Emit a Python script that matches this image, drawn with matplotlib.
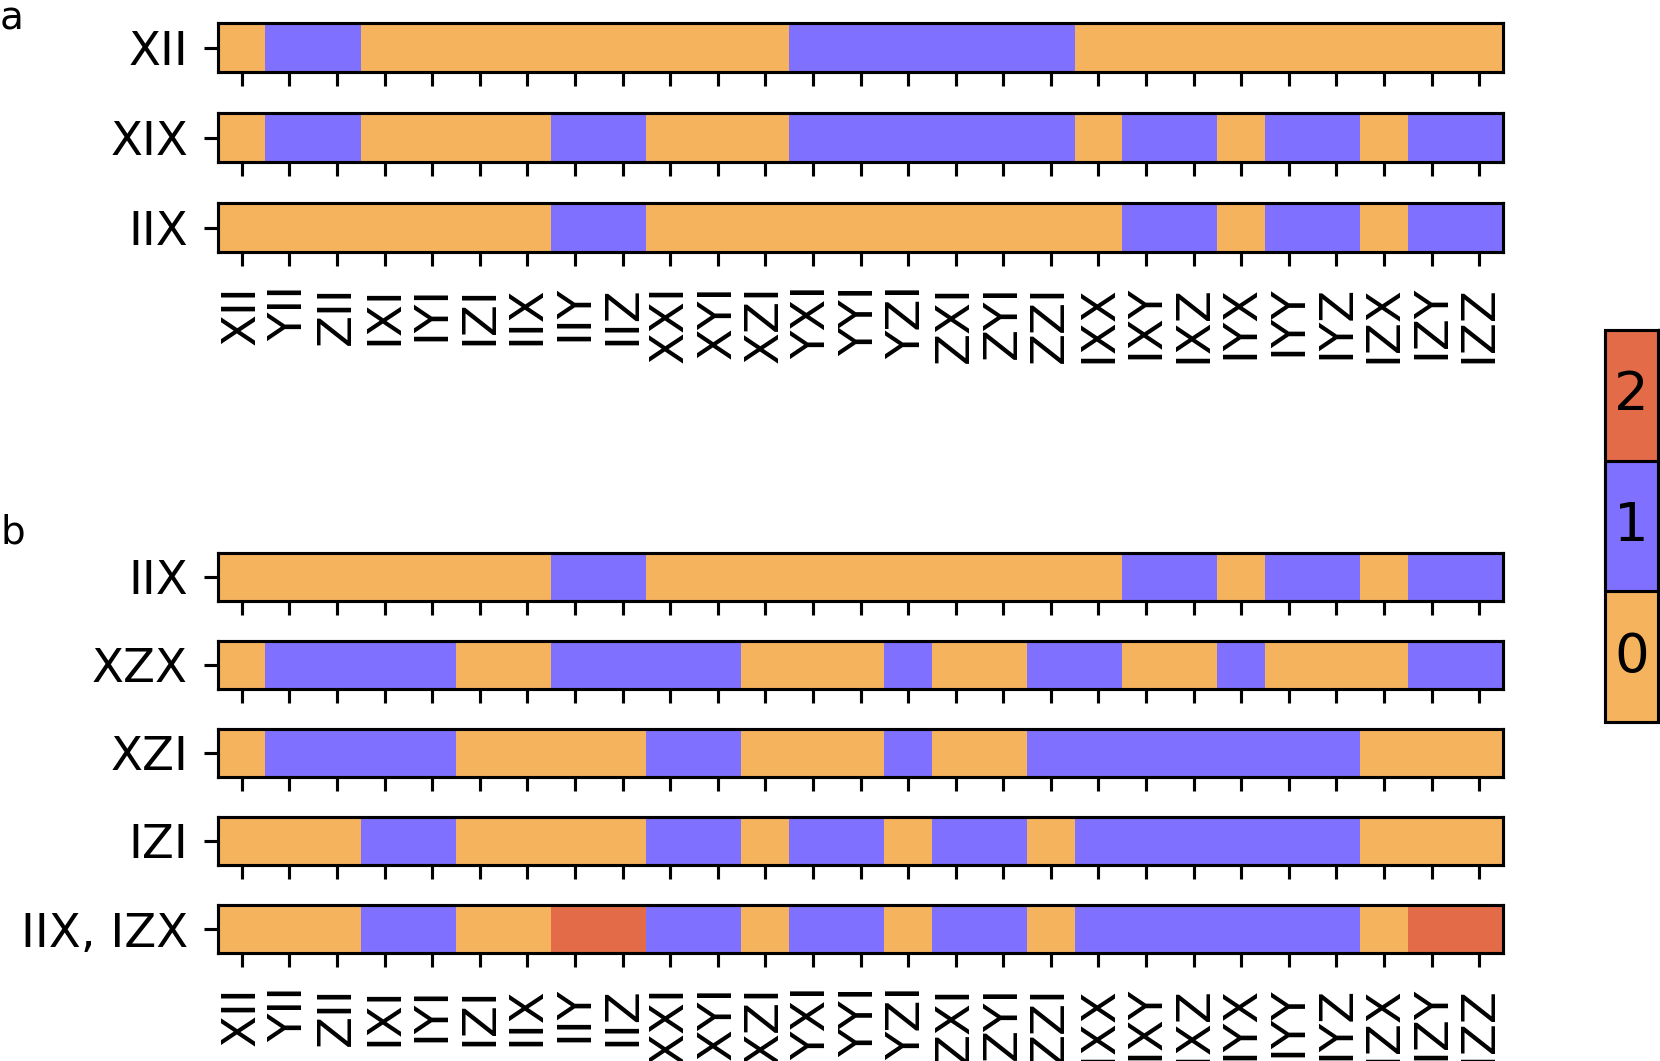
import numpy as np
import matplotlib
matplotlib.use("Agg")
import matplotlib.pyplot as plt
from matplotlib.colors import ListedColormap, BoundaryNorm

# measurement labels along x
paulis = ["XII", "YII", "ZII", "IXI", "IYI", "IZI", "IIX", "IIY", "IIZ",
          "XXI", "XYI", "XZI", "YXI", "YYI", "YZI", "ZXI", "ZYI", "ZZI",
          "IXX", "IXY", "IXZ", "IYX", "IYY", "IYZ", "IZX", "IZY", "IZZ"]

rows_a = ["XII", "XIX", "IIX"]
vals_a = [
    [0, 1, 1, 0, 0, 0, 0, 0, 0, 0, 0, 0, 1, 1, 1, 1, 1, 1, 0, 0, 0, 0, 0, 0, 0, 0, 0],
    [0, 1, 1, 0, 0, 0, 0, 1, 1, 0, 0, 0, 1, 1, 1, 1, 1, 1, 0, 1, 1, 0, 1, 1, 0, 1, 1],
    [0, 0, 0, 0, 0, 0, 0, 1, 1, 0, 0, 0, 0, 0, 0, 0, 0, 0, 0, 1, 1, 0, 1, 1, 0, 1, 1],
]

rows_b = ["IIX", "XZX", "XZI", "IZI", "IIX, IZX"]
vals_b = [
    [0, 0, 0, 0, 0, 0, 0, 1, 1, 0, 0, 0, 0, 0, 0, 0, 0, 0, 0, 1, 1, 0, 1, 1, 0, 1, 1],
    [0, 1, 1, 1, 1, 0, 0, 1, 1, 1, 1, 0, 0, 0, 1, 0, 0, 1, 1, 0, 0, 1, 0, 0, 0, 1, 1],
    [0, 1, 1, 1, 1, 0, 0, 0, 0, 1, 1, 0, 0, 0, 1, 0, 0, 1, 1, 1, 1, 1, 1, 1, 0, 0, 0],
    [0, 0, 0, 1, 1, 0, 0, 0, 0, 1, 1, 0, 1, 1, 0, 1, 1, 0, 1, 1, 1, 1, 1, 1, 0, 0, 0],
    [0, 0, 0, 1, 1, 0, 0, 2, 2, 1, 1, 0, 1, 1, 0, 1, 1, 0, 1, 1, 1, 1, 1, 1, 0, 2, 2],
]

levels = [0, 1, 2]
colors = ["#F6B35E", "#8070FF", "#E36B47"]

cmap = ListedColormap(colors)
norm = BoundaryNorm([-0.5, 0.5, 1.5, 2.5], cmap.N)

W, H = 1660, 1061
DPI = 280
fig = plt.figure(figsize=(W / DPI, H / DPI), dpi=DPI)


def px_axes(x0, y0, x1, y1):
    return fig.add_axes([x0 / W, 1 - y1 / H, (x1 - x0) / W, (y1 - y0) / H])


def draw_panel(names, vals, tops, height):
    for k, (name, v) in enumerate(zip(names, vals)):
        ax = px_axes(218, tops[k], 1503, tops[k] + height)
        ax.imshow(np.array([v]), cmap=cmap, norm=norm, aspect="auto",
                  interpolation="nearest")
        ax.set_yticks([0])
        ax.set_yticklabels([name], fontsize=12)
        ax.set_xticks(range(len(paulis)))
        if k == len(names) - 1:
            ax.set_xticklabels(paulis, rotation=90, fontsize=12)
        else:
            ax.set_xticklabels([])
        ax.tick_params(axis="y", pad=4.2)
        ax.tick_params(axis="x", pad=5)


draw_panel(rows_a, vals_a, [23, 113, 203], 49)
draw_panel(rows_b, vals_b, [553, 641, 729, 817, 905], 48)

fig.text(0, 1.0, "a", fontsize=10, ha="left", va="top")
fig.text(0, 1 - 543 / H, "b", fontsize=10, ha="left", va="baseline")

# discrete colour bar with labels inside the cells
cax = px_axes(1605, 330, 1658, 722)
sm = plt.cm.ScalarMappable(cmap=cmap, norm=norm)
cb = fig.colorbar(sm, cax=cax, drawedges=True, ticks=[])
cb.dividers.set_linewidth(0.8)
for lv in levels:
    cax.text(0.5, lv, str(lv), ha="center", va="center", fontsize=14)

fig.savefig("out.png", dpi=DPI)
